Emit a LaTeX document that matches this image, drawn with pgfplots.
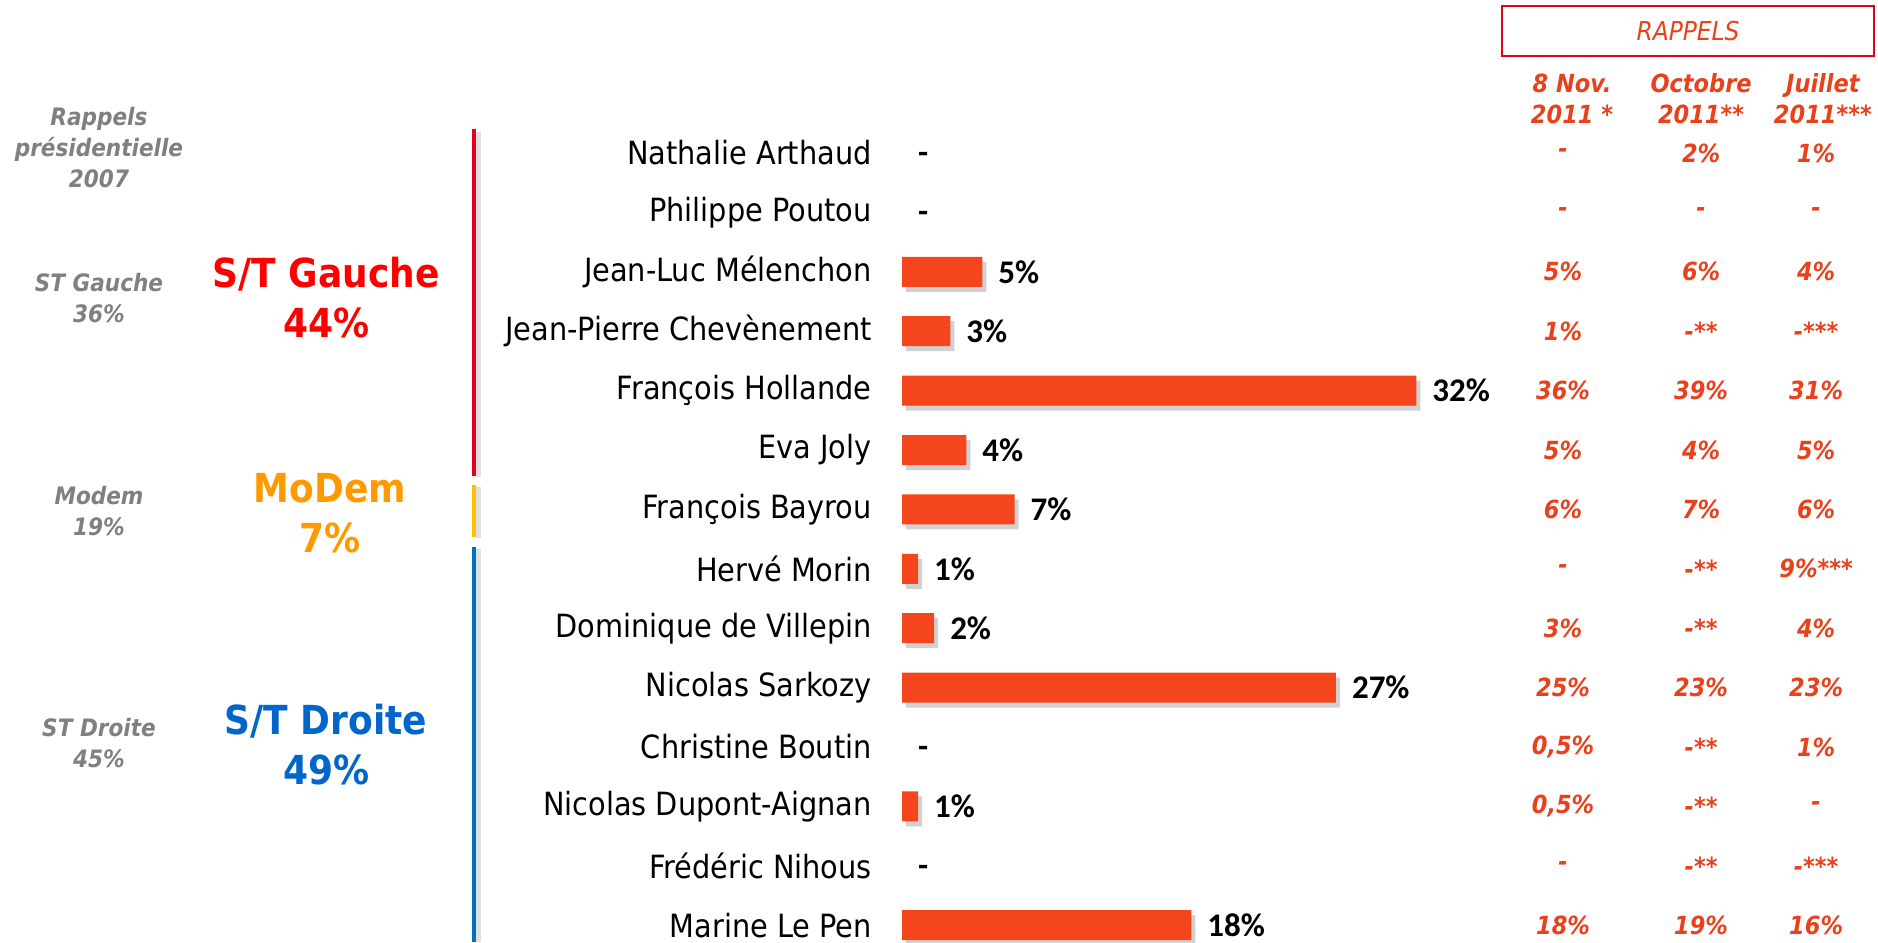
\documentclass[border=0pt]{standalone}
\usepackage{pgfplots}
\pgfplotsset{compat=1.18}
\usepackage{pgfplotstable}
\usepackage{fontspec}
\setmainfont{DejaVu Sans Condensed}
\newfontfamily\carl{Carlito}
\definecolor{barc}{HTML}{F4451C}
\definecolor{rap}{HTML}{E8411C}
\definecolor{grayt}{HTML}{808080}
\definecolor{gauche}{HTML}{FF0000}
\definecolor{modem}{HTML}{FF9900}
\definecolor{droite}{HTML}{0066CC}
\definecolor{lred}{HTML}{E2001A}
\definecolor{lyel}{HTML}{FFC000}
\definecolor{lblue}{HTML}{0070C0}

\pgfplotstableread[col sep=semicolon]{
row;val;lab;nov;oct;jul;name
0;0;-;-;2\%;1\%;Nathalie Arthaud
1;0;-;-;-;-;Philippe Poutou
2;5;5\%;5\%;6\%;4\%;Jean-Luc Mélenchon
3;3;3\%;1\%;-**;-***;Jean-Pierre Chevènement
4;32;32\%;36\%;39\%;31\%;François Hollande
5;4;4\%;5\%;4\%;5\%;Eva Joly
6;7;7\%;6\%;7\%;6\%;François Bayrou
7;1;1\%;-;-**;9\%***;Hervé Morin
8;2;2\%;3\%;-**;4\%;Dominique de Villepin
9;27;27\%;25\%;23\%;23\%;Nicolas Sarkozy
10;0;-;0,5\%;-**;1\%;Christine Boutin
11;1;1\%;0,5\%;-**;-;Nicolas Dupont-Aignan
12;0;-;-;-**;-***;Frédéric Nihous
13;18;18\%;18\%;19\%;16\%;Marine Le Pen
}\data

\begin{document}
\begin{tikzpicture}[
  rapf/.style={text=rap, font=\bfseries\itshape\fontsize{12.5}{15.5}\selectfont},
  grayf/.style={text=grayt, font=\bfseries\itshape\fontsize{12}{15.5}\selectfont, align=center},
  bigf/.style={font=\bfseries\fontsize{20}{25}\selectfont, align=center},
  barlab/.style={anchor=west, xshift=4.5pt, text=black, font=\carl\bfseries\fontsize{16.5}{19}\selectfont},
]
\begin{axis}[
  scale only axis, width=939pt, height=471pt,
  xmin=-56.13, xmax=60.73, ymin=-2.576, ymax=13.283,
  y dir=reverse, hide axis, clip=false,
]
% bars (non-zero values)
\addplot[xbar, bar width=15pt, fill=barc, draw=none,
  restrict x to domain=0.1:100,
  preaction={fill=black!18, transform canvas={shift={(2pt,-2.5pt)}}},
  nodes near coords, point meta=explicit symbolic,
  nodes near coords style={barlab}]
  table[x=val, y=row, meta=lab] {\data};
% dash labels for candidates without a score
\addplot[draw=none, mark=none, restrict x to domain=-0.1:0.1,
  nodes near coords, point meta=explicit symbolic,
  nodes near coords style={barlab, yshift=-2.5pt}]
  table[x=val, y=row, meta=lab] {\data};
% candidate names
\addplot[draw=none, mark=none, nodes near coords, point meta=explicit symbolic,
  nodes near coords style={anchor=east, inner sep=0pt, text=black, font=\fontsize{16}{19}\selectfont}]
  table[x expr=-1.867, y=row, meta=name] {\data};
% rappels columns
\addplot[draw=none, mark=none, nodes near coords, point meta=explicit symbolic,
  nodes near coords style={anchor=center, inner sep=0pt, rapf}]
  table[x expr=41.13, y=row, meta=nov] {\data};
\addplot[draw=none, mark=none, nodes near coords, point meta=explicit symbolic,
  nodes near coords style={anchor=center, inner sep=0pt, rapf}]
  table[x expr=49.72, y=row, meta=oct] {\data};
\addplot[draw=none, mark=none, nodes near coords, point meta=explicit symbolic,
  nodes near coords style={anchor=center, inner sep=0pt, rapf}]
  table[x expr=56.88, y=row, meta=jul] {\data};

% headers
\draw[lred, line width=1pt] (axis cs:37.34,-2.475) rectangle (axis cs:60.49,-1.633);
\node[text=rap, font=\itshape\fontsize{13}{15.5}\selectfont] at (axis cs:48.91,-2.054) {RAPPELS};
\node[rapf, align=center] at (axis cs:41.69,-0.917) {8 Nov.\\2011 *};
\node[rapf, align=center] at (axis cs:49.72,-0.917) {Octobre\\2011**};
\node[rapf, align=center] at (axis cs:57.3,-0.917) {Juillet\\2011***};

% group lines
\draw[black!12, line width=3pt] (axis cs:-26.38,-0.35) -- (axis cs:-26.38,5.45);
\draw[black!12, line width=3pt] (axis cs:-26.38,5.62) -- (axis cs:-26.38,6.48);
\draw[black!12, line width=3pt] (axis cs:-26.38,6.66) -- (axis cs:-26.38,13.283);
\draw[lred, line width=2pt] (axis cs:-26.63,-0.404) -- (axis cs:-26.63,5.438);
\draw[lyel, line width=2pt] (axis cs:-26.63,5.589) -- (axis cs:-26.63,6.465);
\draw[lblue, line width=2pt] (axis cs:-26.63,6.633) -- (axis cs:-26.63,13.283);

% left texts
\node[grayf] at (axis cs:-49.97,-0.084) {Rappels\\présidentielle\\2007};
\node[grayf] at (axis cs:-49.97,2.449) {ST Gauche\\36\%};
\node[grayf] at (axis cs:-49.97,6.035) {Modem\\19\%};
\node[grayf] at (axis cs:-49.97,9.941) {ST Droite\\45\%};
\node[bigf, text=gauche] at (axis cs:-35.84,2.44) {S/T Gauche\\44\%};
\node[bigf, text=modem] at (axis cs:-35.6,6.06) {MoDem\\7\%};
\node[bigf, text=droite] at (axis cs:-35.84,9.966) {S/T Droite\\49\%};
\end{axis}
\pgfresetboundingbox
\useasboundingbox (current axis.south west) rectangle (current axis.north east);
\end{tikzpicture}
\end{document}
